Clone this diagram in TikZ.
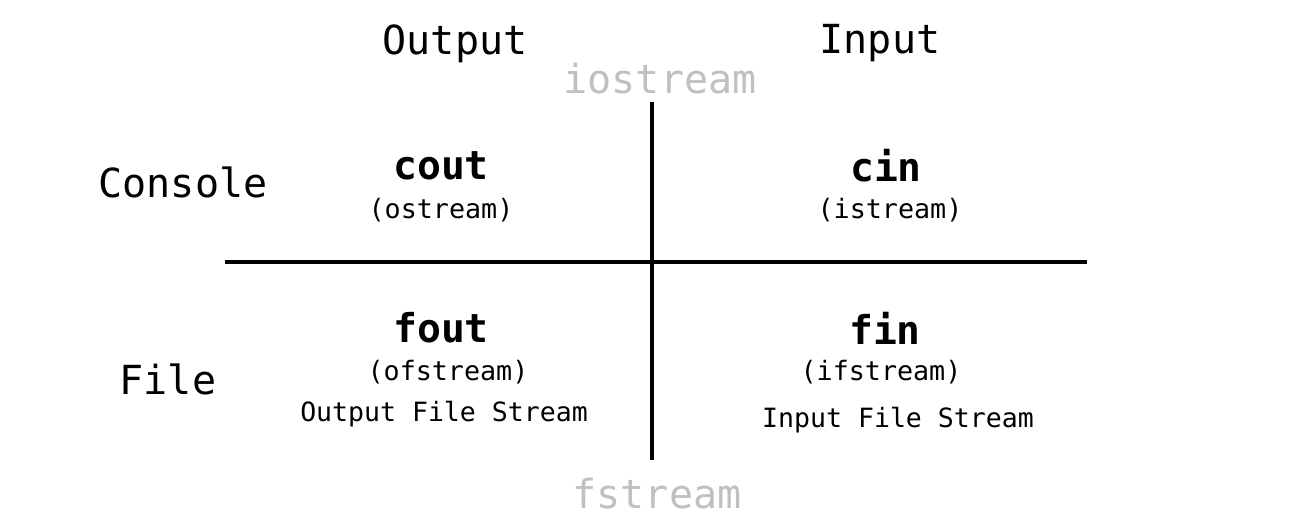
\documentclass[tikz,border=0pt]{standalone}
\usepackage{fontspec}
\setmonofont{DejaVu Sans Mono}
\usepackage{xcolor}
\usetikzlibrary{positioning}
\definecolor{libgray}{RGB}{192,192,192}

\begin{document}
\begin{tikzpicture}[x=0.02cm, y=-0.02cm, every node/.style={font=\ttfamily, inner sep=0pt}]
    \useasboundingbox (0,0) rectangle (1300,528);
    \tikzset{
        heading/.style={font=\ttfamily\fontsize{22.8}{27}\selectfont},
        lib/.style={heading, text=libgray},
        stream/.style={font=\ttfamily\bfseries\fontsize{22.6}{27}\selectfont},
        kind/.style={font=\ttfamily\fontsize{15.2}{18}\selectfont},
        descr/.style={font=\ttfamily\fontsize{15.1}{18}\selectfont}
    }
    % Column and row headings
    \node[heading] (output) at (455,44) {Output};
    \node[heading] (input) at (880,43) {Input};
    \node[heading] (console) at (183,182) {Console};
    \node[heading] (file) at (168,379) {File};
    
    % Libraries
    \node[lib] (iostream) at (660,79) {iostream};
    \node[lib] (fstream) at (657,494) {fstream};
    
    % Axes
    \coordinate (vtop) at (652,102);
    \coordinate (vbot) at (652,460);
    \coordinate (hleft) at (225,262);
    \coordinate (hright) at (1087,262);
    \draw[line width=2.2pt] (vtop) -- (vbot);
    \draw[line width=2.2pt] (hleft) -- (hright);
    
    % Console streams
    \node[stream] (cout) at (441,166) {cout};
    \node[kind] (ostream) at (441,210) {(ostream)};
    \node[stream] (cin) at (886,166) {cin};
    \node[kind] (istream) at (890,210) {(istream)};
    
    % File streams
    \node[stream] (fout) at (441,328) {fout};
    \node[kind] (ofstream) at (448,372) {(ofstream)};
    \node[descr] (ofdesc) at (444,414) {Output File Stream};
    \node[stream] (fin) at (885,328) {fin};
    \node[kind] (ifstream) at (881,372) {(ifstream)};
    \node[descr] (ifdesc) at (898,420) {Input File Stream};
\end{tikzpicture}
\end{document}
